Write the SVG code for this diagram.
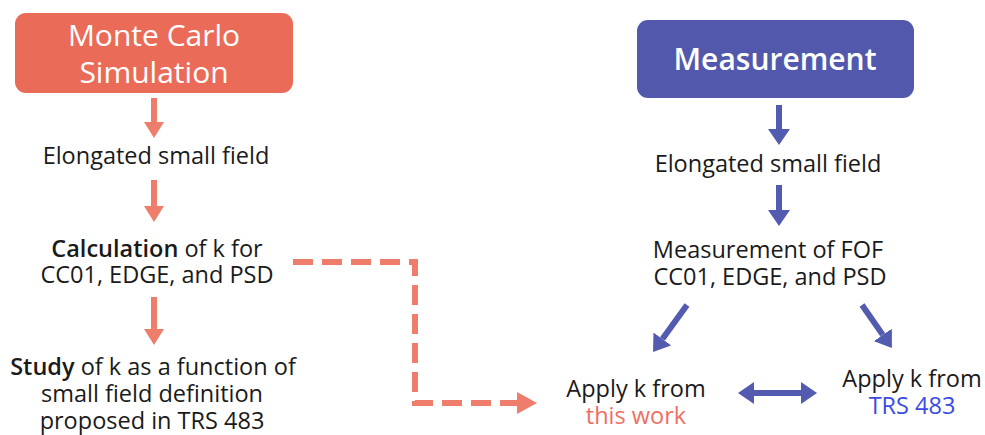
<svg xmlns="http://www.w3.org/2000/svg" width="985" height="435" viewBox="0 0 985 435">
<style>
  .t { font-family: "Open Sans", "Liberation Sans", sans-serif; font-size: 23.5px; fill: #1a1a1a; text-anchor: middle; }
  .title { font-family: "Open Sans", "Liberation Sans", sans-serif; font-size: 30px; fill: #ffffff; text-anchor: middle; }
  .b { font-weight: 600; }
  .red { stroke: #EE7E6B; stroke-width: 6; fill: none; }
  .blue { stroke: #535BB0; stroke-width: 6; fill: none; }
</style>
<defs>
  <marker id="hr" markerUnits="userSpaceOnUse" markerWidth="16" markerHeight="20" refX="0" refY="10" orient="auto"><path d="M0,0 L16,10 L0,20 z" fill="#EE7E6B"/></marker>
  <marker id="hrd" markerUnits="userSpaceOnUse" markerWidth="20" markerHeight="22" refX="0" refY="11" orient="auto"><path d="M0,0 L20,11 L0,22 z" fill="#EE7E6B"/></marker>
  <marker id="hb" markerUnits="userSpaceOnUse" markerWidth="16" markerHeight="22" refX="0" refY="11" orient="auto-start-reverse"><path d="M0,0 L16,11 L0,22 z" fill="#535BB0"/></marker>
</defs>
<rect width="985" height="435" fill="#ffffff"/>

<g id="mc">
  <rect x="15" y="13" width="278" height="80" rx="11" fill="#EB6B59"/>
  <text class="title" x="154" y="46">Monte Carlo<tspan x="154" y="83">Simulation</tspan></text>
</g>
<g id="mc-elong"><text class="t" x="156" y="164">Elongated small field</text></g>
<g id="mc-calc">
  <text class="t" x="157" y="257"><tspan class="b">Calculation</tspan> of k for<tspan x="157" y="283">CC01, EDGE, and PSD</tspan></text>
</g>
<g id="mc-study">
  <text class="t" x="153" y="375"><tspan class="b">Study</tspan> of k as a function of<tspan x="152" y="402">small field definition</tspan><tspan x="152" y="429">proposed in TRS 483</tspan></text>
</g>

<g id="meas">
  <rect x="637" y="20" width="277" height="78" rx="11" fill="#5259AC"/>
  <text class="title b" x="775" y="70">Measurement</text>
</g>
<g id="meas-elong"><text class="t" x="768" y="172">Elongated small field</text></g>
<g id="meas-fof">
  <text class="t" x="768" y="258">Measurement of FOF<tspan x="770" y="285">CC01, EDGE, and PSD</tspan></text>
</g>
<g id="apply-this">
  <text class="t" x="636" y="397">Apply k from<tspan x="636" y="424" style="fill:#EE6F63">this work</tspan></text>
</g>
<g id="apply-trs">
  <text class="t" x="912" y="387">Apply k from<tspan x="912" y="414" style="fill:#3B4CE0">TRS 483</tspan></text>
</g>

<g id="connectors">
  <line class="red" x1="154" y1="98" x2="154" y2="122" marker-end="url(#hr)"/>
  <line class="red" x1="154" y1="180" x2="154" y2="206" marker-end="url(#hr)"/>
  <line class="red" x1="154" y1="297" x2="154" y2="329" marker-end="url(#hr)"/>
  <path class="red" d="M293,262 H415 V403 H517" stroke-dasharray="20 9" marker-end="url(#hrd)"/>
  <line class="blue" x1="779" y1="105" x2="779" y2="129" marker-end="url(#hb)"/>
  <line class="blue" x1="779" y1="185" x2="779" y2="210" marker-end="url(#hb)"/>
  <line class="blue" x1="687" y1="305" x2="662.4" y2="339" marker-end="url(#hb)"/>
  <line class="blue" x1="862" y1="305" x2="882.8" y2="334.9" marker-end="url(#hb)"/>
  <line class="blue" x1="754" y1="393" x2="801" y2="393" marker-start="url(#hb)" marker-end="url(#hb)"/>
</g>
</svg>
